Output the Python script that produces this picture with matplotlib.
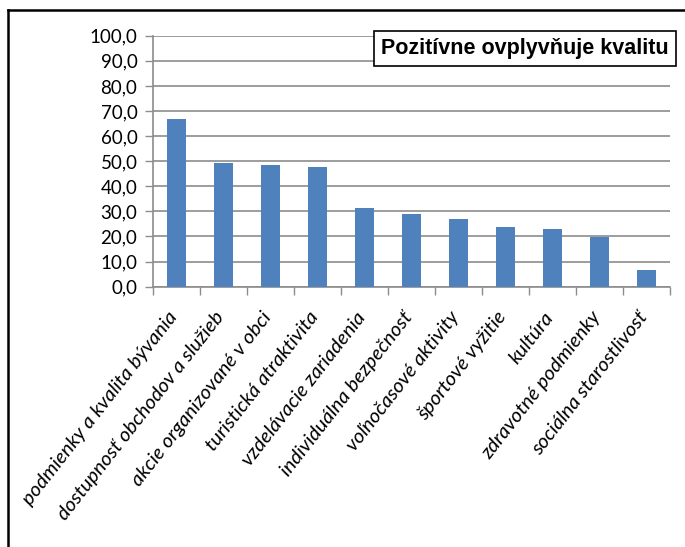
import matplotlib
matplotlib.use("Agg")
import matplotlib.pyplot as plt
import matplotlib.transforms as mtransforms
from matplotlib.lines import Line2D

categories = [
    "podmienky a kvalita bývania",
    "dostupnosť obchodov a služieb",
    "akcie organizované v obci",
    "turistická atraktivita",
    "vzdelávacie zariadenia",
    "individuálna bezpečnosť",
    "voľnočasové aktivity",
    "športové vyžitie",
    "kultúra",
    "zdravotné podmienky",
    "sociálna starostlivosť",
]
values = [66.9, 49.2, 48.6, 47.6, 31.3, 28.8, 27.1, 23.6, 22.9, 19.8, 6.8]
y_ticks = [0, 10, 20, 30, 40, 50, 60, 70, 80, 90, 100]
title = "Pozitívne ovplyvňuje kvalitu"

bar_color = "#4F81BD"
grid_color = "#8C8C8C"

plt.rcParams["font.family"] = ["Lato", "DejaVu Sans"]

fig = plt.figure(figsize=(6.85, 5.47), dpi=100)
ax = fig.add_axes([0.2229, 0.4759, 0.978 - 0.2229, 0.9347 - 0.4759])

x = list(range(len(categories)))
ax.bar(x, values, width=0.4, color=bar_color, zorder=3)

ax.set_xlim(-0.5, len(categories) - 0.5)
ax.set_ylim(0, 100)
ax.set_yticks(y_ticks)
ax.set_yticklabels([f"{v:.1f}".replace(".", ",") for v in y_ticks], fontsize=13.5)
ax.yaxis.grid(True, color=grid_color, linewidth=1.2, zorder=0)
ax.tick_params(axis="y", length=6, width=1, color=grid_color, pad=5)

# category boundaries as major ticks, labels on minor ticks
ax.set_xticks([i - 0.5 for i in range(len(categories) + 1)])
ax.set_xticklabels([])
ax.set_xticks(x, minor=True)
ax.set_xticklabels(categories, minor=True, rotation=52, ha="right",
                   rotation_mode="anchor", fontsize=14.6, style="italic")
ax.tick_params(axis="x", which="major", length=6, width=1, color=grid_color)
ax.tick_params(axis="x", which="minor", length=0, pad=18)

# nudge the rotated labels a little up and left, as in the original
shift = mtransforms.ScaledTranslation(-9 / 100, 3 / 100, fig.dpi_scale_trans)
for lbl in ax.get_xticklabels(minor=True):
    lbl.set_transform(lbl.get_transform() + shift)

for side in ["top", "right"]:
    ax.spines[side].set_visible(False)
ax.spines["left"].set_color(grid_color)
ax.spines["bottom"].set_color(grid_color)
ax.spines["left"].set_linewidth(1.2)
ax.spines["bottom"].set_linewidth(1.2)

fig.text(0.766, 0.912, title, ha="center", va="center", fontsize=15.5,
         fontweight="bold", family="Liberation Sans",
         bbox=dict(boxstyle="square,pad=0.33", facecolor="white",
                   edgecolor="black", linewidth=1.2))

# outer frame (cropped on the right and bottom)
fx = 8 / 685
fy = 1 - 10 / 547
fig.add_artist(Line2D([fx, fx], [0, fy], transform=fig.transFigure,
                      color="black", linewidth=1.8))
fig.add_artist(Line2D([fx, 1], [fy, fy], transform=fig.transFigure,
                      color="black", linewidth=1.8))

fig.savefig("out.png", dpi=100, facecolor="white")
